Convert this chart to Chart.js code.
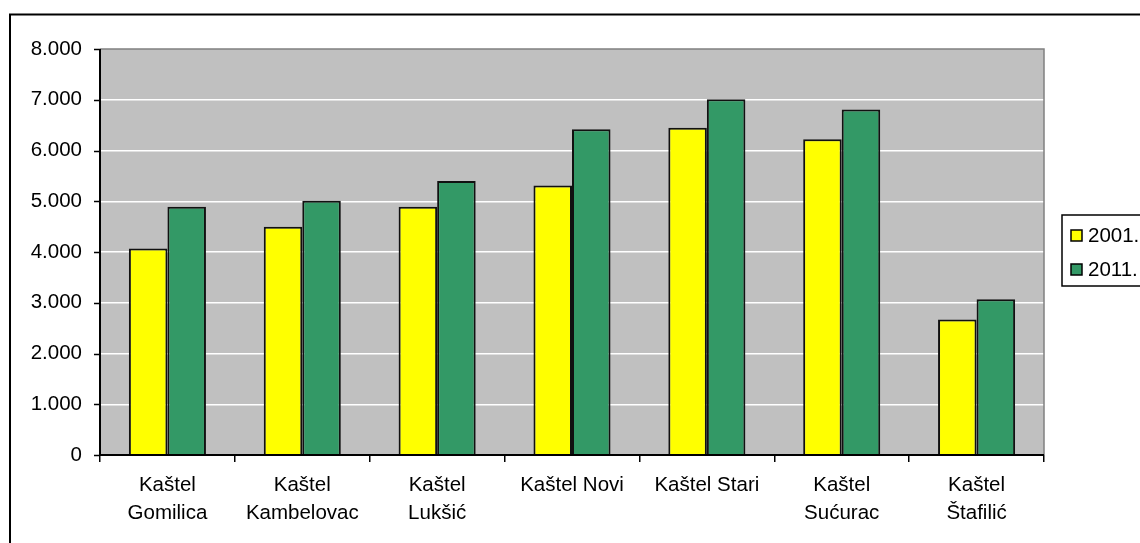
<!DOCTYPE html>
<html>
<head>
<meta charset="utf-8">
<script src="https://cdn.jsdelivr.net/npm/chart.js@4/dist/chart.umd.min.js"></script>
<style>
  body { margin: 0; background: #fff; }
  #wrap { width: 1140px; height: 543px; position: relative; }
</style>
</head>
<body>
<div id="wrap"><canvas id="chart"></canvas></div>
<script>
const categories = [
    ["Kaštel", "Gomilica"],
    ["Kaštel", "Kambelovac"],
    ["Kaštel", "Lukšić"],
    "Kaštel Novi",
    "Kaštel Stari",
    ["Kaštel", "Sućurac"],
    ["Kaštel", "Štafilić"],
];
const seriesNames = ["2001.", "2011."];
const values2001 = [4070, 4500, 4890, 5310, 6450, 6220, 2670];
const values2011 = [4890, 5010, 5400, 6420, 7010, 6810, 3070];
const yTicks = [0, 1000, 2000, 3000, 4000, 5000, 6000, 7000, 8000];

const FONT = "'Liberation Sans', Arial, sans-serif";
const FONT_SIZE = 20.5;

function fmt(v) {
    return String(v).replace(/\B(?=(\d{3})+(?!\d))/g, ".");
}

// frame, plot background, border, tick marks and legend box
const excelLook = {
    id: "excelLook",
    beforeDraw(chart) {
        const ctx = chart.ctx;
        const a = chart.chartArea;
        ctx.save();
        ctx.fillStyle = "#c0c0c0";
        ctx.fillRect(a.left, a.top, a.right - a.left, a.bottom - a.top);
        ctx.restore();
    },
    afterDraw(chart) {
        const ctx = chart.ctx;
        const a = chart.chartArea;
        const y = chart.scales.y;
        ctx.save();
        // outer frame
        ctx.strokeStyle = "#000";
        ctx.lineWidth = 2;
        ctx.beginPath();
        ctx.moveTo(10, 560);
        ctx.lineTo(10, 14.5);
        ctx.lineTo(1160, 14.5);
        ctx.stroke();

        // plot border top/right
        ctx.strokeStyle = "#808080";
        ctx.lineWidth = 1.5;
        ctx.beginPath();
        ctx.moveTo(a.left, a.top);
        ctx.lineTo(a.right, a.top);
        ctx.lineTo(a.right, a.bottom);
        ctx.stroke();

        // axes
        ctx.strokeStyle = "#000";
        ctx.lineWidth = 2;
        ctx.beginPath();
        ctx.moveTo(a.left, a.top);
        ctx.lineTo(a.left, a.bottom);
        ctx.lineTo(a.right, a.bottom);
        ctx.stroke();

        // y tick marks
        ctx.lineWidth = 1.5;
        ctx.beginPath();
        y.ticks.forEach((t, i) => {
            const py = Math.round(y.getPixelForTick(i)) + 0.5;
            ctx.moveTo(a.left - 6, py);
            ctx.lineTo(a.left, py);
        });
        ctx.stroke();

        // legend
        ctx.lineWidth = 1.5;
        ctx.strokeStyle = "#000";
        ctx.strokeRect(1062, 215, 120, 71);
        ctx.font = FONT_SIZE + "px " + FONT;
        ctx.textBaseline = "middle";
        ctx.textAlign = "left";
        chart.data.datasets.forEach((ds, i) => {
            const top = 230 + i * 34;
            ctx.fillStyle = ds.backgroundColor;
            ctx.fillRect(1071, top, 11, 11);
            ctx.lineWidth = 1.5;
            ctx.strokeRect(1071, top, 11, 11);
            ctx.fillStyle = "#000";
            ctx.fillText(ds.label, 1088, top + 6);
        });
        ctx.restore();
    },
};

new Chart(document.getElementById("chart"), {
    type: "bar",
    data: {
        labels: categories,
        datasets: [
            {
                label: seriesNames[0],
                data: values2001,
                backgroundColor: "#ffff00",
                borderColor: "#111",
                borderWidth: 2,
            },
            {
                label: seriesNames[1],
                data: values2011,
                backgroundColor: "#339966",
                borderColor: "#111",
                borderWidth: 2,
            },
        ],
    },
    options: {
        responsive: true,
        maintainAspectRatio: false,
        animation: false,
        layout: { padding: { top: 49, right: 96, left: 0, bottom: 0 } },
        datasets: {
            bar: { categoryPercentage: 2 / 3.5, barPercentage: 1 },
        },
        plugins: {
            legend: { display: false },
            tooltip: { enabled: false },
        },
        scales: {
            x: {
                afterFit: (s) => { s.height = 88; },
                border: { display: false },
                grid: {
                    offset: true,
                    drawOnChartArea: false,
                    color: "#000",
                    lineWidth: 1.5,
                    tickLength: 7,
                },
                ticks: {
                    color: "#000",
                    padding: 10,
                    maxRotation: 0,
                    autoSkip: false,
                    font: { family: FONT, size: FONT_SIZE, lineHeight: 1.33 },
                },
            },
            y: {
                min: yTicks[0],
                max: yTicks[yTicks.length - 1],
                afterFit: (s) => { s.width = 100; },
                afterBuildTicks: (s) => { s.ticks = yTicks.map((v) => ({ value: v })); },
                border: { display: false },
                grid: {
                    color: (c) => (c.tick && c.tick.value > 0 && c.tick.value < 8000 ? "#fff" : "rgba(0,0,0,0)"),
                    lineWidth: 1.5,
                    drawTicks: false,
                },
                ticks: {
                    color: "#000",
                    padding: 18,
                    callback: (v) => fmt(v),
                    font: { family: FONT, size: FONT_SIZE },
                },
            },
        },
    },
    plugins: [excelLook],
});
</script>
</body>
</html>
